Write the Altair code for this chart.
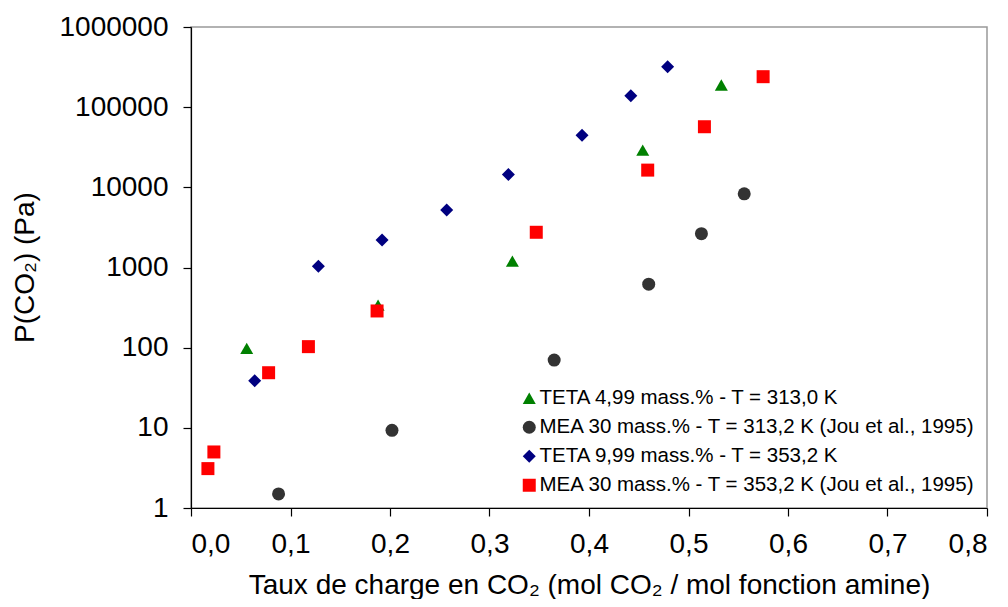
import altair as alt
import pandas as pd

series_names = [
    "TETA 4,99 mass.% - T = 313,0 K",
    "MEA 30 mass.% - T = 313,2 K (Jou et al., 1995)",
    "TETA 9,99 mass.% - T = 353,2 K",
    "MEA 30 mass.% - T = 353,2 K (Jou et al., 1995)",
]
series_colors = ["#008000", "#333333", "#000080", "#FF0000"]
series_shapes = ["triangle-up", "circle", "diamond", "square"]

teta313_x = [0.056, 0.188, 0.323, 0.454, 0.533]
teta313_y = [98, 340, 1200, 29200, 189000]

mea313_x = [0.088, 0.202, 0.365, 0.460, 0.513, 0.556]
mea313_y = [1.5, 9.3, 70, 620, 2640, 8300]

teta353_x = [0.064, 0.128, 0.192, 0.257, 0.319, 0.393, 0.442, 0.479]
teta353_y = [38.7, 1040, 2200, 5200, 14500, 44500, 139000, 320000]

mea353_x = [0.017, 0.023, 0.078, 0.118, 0.187, 0.347, 0.459, 0.516, 0.575]
mea353_y = [3.1, 5.0, 48.7, 103, 287, 2750, 16400, 57000, 240000]

x_ticks = [0.0, 0.1, 0.2, 0.3, 0.4, 0.5, 0.6, 0.7, 0.8]
y_ticks = [1, 10, 100, 1000, 10000, 100000, 1000000]

rows = []
for name, xs, ys in zip(series_names,
                        [teta313_x, mea313_x, teta353_x, mea353_x],
                        [teta313_y, mea313_y, teta353_y, mea353_y]):
    for a, b in zip(xs, ys):
        rows.append({"serie": name, "x": a, "y": b})
df = pd.DataFrame(rows)

FONT = "Liberation Sans"

chart = alt.Chart(df).mark_point(filled=True, opacity=1, size=169).encode(
    x=alt.X("x:Q",
            scale=alt.Scale(domain=[0, 0.8], nice=False, zero=False),
            axis=alt.Axis(values=x_ticks,
                          labelExpr="replace(format(datum.value, '.1f'), '.', ',')",
                          title="Taux de charge en CO₂ (mol CO₂ / mol fonction amine)",
                          titleY=85, titleBaseline="alphabetic",
                          labelPadding=14, grid=False)),
    y=alt.Y("y:Q",
            scale=alt.Scale(type="log", domain=[1, 1000000], nice=False),
            axis=alt.Axis(values=y_ticks, format="d",
                          title="P(CO₂) (Pa)",
                          titleAngle=270, titleX=-158, titleY=240,
                          titleAlign="center", titleBaseline="alphabetic",
                          labelPadding=15, grid=False)),
    color=alt.Color("serie:N",
                    scale=alt.Scale(domain=series_names, range=series_colors),
                    legend=alt.Legend(title=None, orient="none",
                                      legendX=328, legendY=361,
                                      labelFont=FONT, labelFontSize=20.5,
                                      labelColor="#000000", labelOffset=0,
                                      symbolSize=169, rowPadding=8,
                                      padding=0, labelLimit=600,
                                      symbolStrokeWidth=0, symbolOpacity=1)),
    shape=alt.Shape("serie:N",
                    scale=alt.Scale(domain=series_names, range=series_shapes)),
).properties(
    width=796, height=481,
    background="#ffffff",
    autosize=alt.AutoSizeParams(type="none"),
    padding={"left": 183, "top": 19, "right": 13, "bottom": 91},
).configure_view(
    stroke="#999999", strokeWidth=1.5
).configure_axis(
    domainColor="#000000", domainWidth=1.2,
    tickColor="#000000", tickSize=8, tickWidth=1.2,
    labelFont=FONT, labelFontSize=28, labelColor="#000000",
    titleFont=FONT, titleFontSize=28, titleColor="#000000",
    titleFontWeight="normal",
)

chart.save("out.html", embed_options={"renderer": "svg", "actions": False})
